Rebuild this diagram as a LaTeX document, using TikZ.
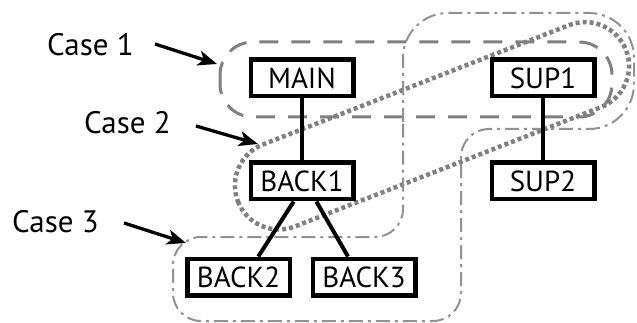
\documentclass[tikz,border=0pt]{standalone}
\usepackage{fontspec}
\setmainfont{PT Sans}
\usetikzlibrary{arrows.meta,calc}
\definecolor{grayc}{RGB}{128,128,128}
\definecolor{grayd}{RGB}{145,145,145}
\begin{document}
\begin{tikzpicture}[x=1pt,y=-1pt,
  box/.style={draw=black, line width=4.5pt, fill=white, minimum width=102.5pt, minimum height=36.5pt, inner sep=0pt, font=\fontsize{29}{29}\selectfont},
  lbl/.style={anchor=base west, inner sep=0pt, font=\fontsize{31}{31}\selectfont},
  link/.style={line width=4pt, black},
  pointer/.style={line width=3.3pt, -{Stealth[length=19pt,width=15pt,inset=5pt]}},
  caseone/.style={draw=grayc, line width=3pt, dash pattern=on 19pt off 13pt, rounded corners=33pt},
  casetwo/.style={draw=grayc, line width=4.5pt, dash pattern=on 4pt off 3pt},
  casethree/.style={draw=grayd, line width=2pt, dash pattern=on 14pt off 5pt on 3pt off 5pt}]
\useasboundingbox (0,0) rectangle (637,323);
% enclosures
\draw[caseone] (220,42) rectangle (612,117);
\draw[casetwo, rotate around={21.3:(432,125.8)}, rounded corners=44pt] (223.7,81.8) rectangle (640.3,169.8);
\draw[casethree] (403,150) [rounded corners=45pt] -- (403,13) -- (634,13) -- (634,129) [rounded corners=28pt] -- (461,129) -- (461,321) -- (173,321) -- (173,237) -- (403,237) -- cycle;
% nodes
\node[box] (main) at (302,78) {MAIN};
\node[box] (back1) at (302,181) {BACK1};
\node[box] (back2) at (238.5,277) {BACK2};
\node[box] (back3) at (364,277) {BACK3};
\node[box] (sup1) at (543,78) {SUP1};
\node[box] (sup2) at (543,181) {SUP2};
% links
\draw[link] (main) -- (back1);
\draw[link] (back1.248) -- (back2.46.5);
\draw[link] (back1.305) -- (back3.128.7);
\draw[link] (sup1) -- (sup2);
% labels
\node[lbl] (case1) at (47,56) {Case 1};
\node[lbl] (case2) at (84,134) {Case 2};
\node[lbl] (case3) at (12,233) {Case 3};
\coordinate (a1s) at (155,44);
\coordinate (a1e) at (217,64);
\coordinate (a2s) at (196,126);
\coordinate (a2e) at (258,144);
\coordinate (a3s) at (124,223);
\coordinate (a3e) at (186,243);
\draw[pointer] (a1s) -- (a1e);
\draw[pointer] (a2s) -- (a2e);
\draw[pointer] (a3s) -- (a3e);
\end{tikzpicture}
\end{document}
